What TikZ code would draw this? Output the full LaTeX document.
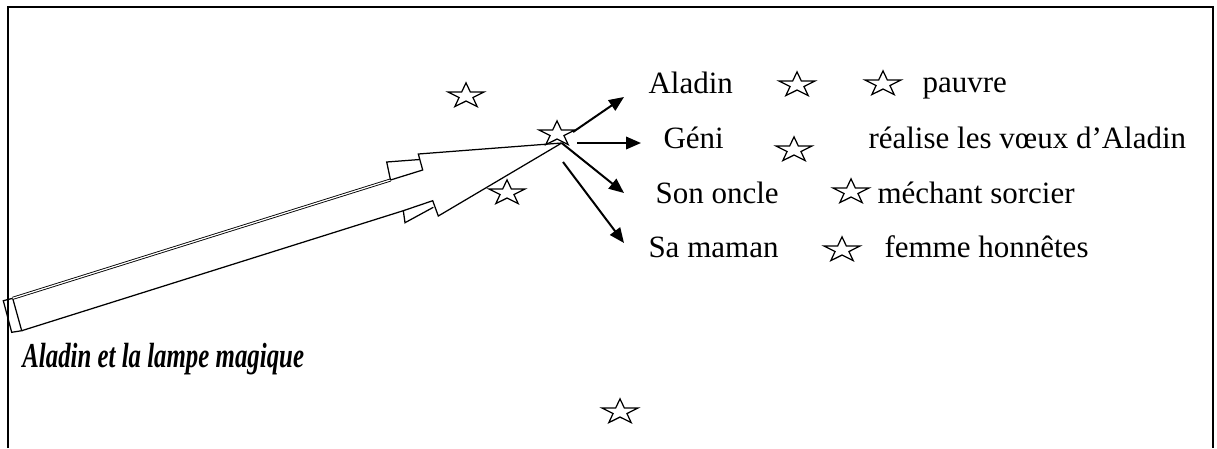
\documentclass[tikz,border=0pt]{standalone}
\usepackage{fontspec}
\setmainfont{Liberation Serif}
\usetikzlibrary{positioning, shapes.geometric, arrows.meta}

\begin{document}
\begin{tikzpicture}[x=0.4pt, y=-0.4pt,
        font=\fontsize{12.4}{14}\selectfont,
        etoile/.style={star, star points=5, star point ratio=2.6, draw, line width=0.5pt,
            minimum size=10.5pt, inner sep=0pt, xscale=1.45},
        texte/.style={anchor=base west, inner sep=0pt},
        fleche/.style={line width=0.8pt, -{Triangle[length=6pt, width=5pt]}},
        baguette/.style={line width=0.5pt, line join=miter}]

        \useasboundingbox (0,0) rectangle (1217,448);

        % Draw frame (open at the bottom)
        \draw[line width=0.8pt] (8,448) -- (8,7) -- (1213,7) -- (1213,448);

        % Magic wand
        \coordinate (bout) at (561.7,143);
        \draw[baguette] (3.3,300.7) -- (12.7,298.3) -- (21.7,330.7) -- (11.7,332.3) -- cycle;
        \draw[baguette, line width=0.35pt, double, double distance=0.5pt] (12.7,298.3) -- (390.5,180);
        \draw[baguette] (390.5,180) -- (422.7,170) -- (418.3,154) -- (bout);
        \draw[baguette] (390.5,180) -- (386.7,162) -- (419.8,159.5);
        \draw[baguette] (21.7,330.7) -- (403.3,210.7) -- (432.7,200.7) -- (438.3,216) -- (bout);
        \draw[baguette] (403.3,210.7) -- (405,222.7) -- (433.3,207.3);

        % Stars
        \foreach \n/\x/\y in {e1/466/96, e2/557/134, e3/507/193, e4/797/85, e5/883/84,
                e6/794/150, e7/851/192, e8/842/250, e9/620/412}
            \node[etoile] (\n) at (\x,\y) {};

        % Characters and what they are
        \node[texte] (aladin) at (648,93) {Aladin};
        \node[texte] (pauvre) at (922,92) {pauvre};
        \node[texte] (geni) at (663,148) {Géni};
        \node[texte] (voeux) at (868,148) {réalise les vœux d’Aladin};
        \node[texte] (oncle) at (655,203) {Son oncle};
        \node[texte] (sorcier) at (877,203) {méchant sorcier};
        \node[texte] (maman) at (648,257) {Sa maman};
        \node[texte] (honnete) at (884,257) {femme honnêtes};

        % Title
        \node[texte, font=\fontsize{14}{16}\selectfont\bfseries\itshape, xscale=0.71] (titre)
            at (22,367) {Aladin et la lampe magique};

        % Arrows from the tip of the wand
        \coordinate (d1) at (573,132);   \coordinate (f1) at (624,97);
        \coordinate (d2) at (577,143);   \coordinate (f2) at (641,143);
        \coordinate (d3) at (bout);      \coordinate (f3) at (624,193);
        \coordinate (d4) at (563,162);   \coordinate (f4) at (624,243);
        \foreach \i in {1,...,4}
            \draw[fleche] (d\i) -- (f\i);

    \end{tikzpicture}
\end{document}
